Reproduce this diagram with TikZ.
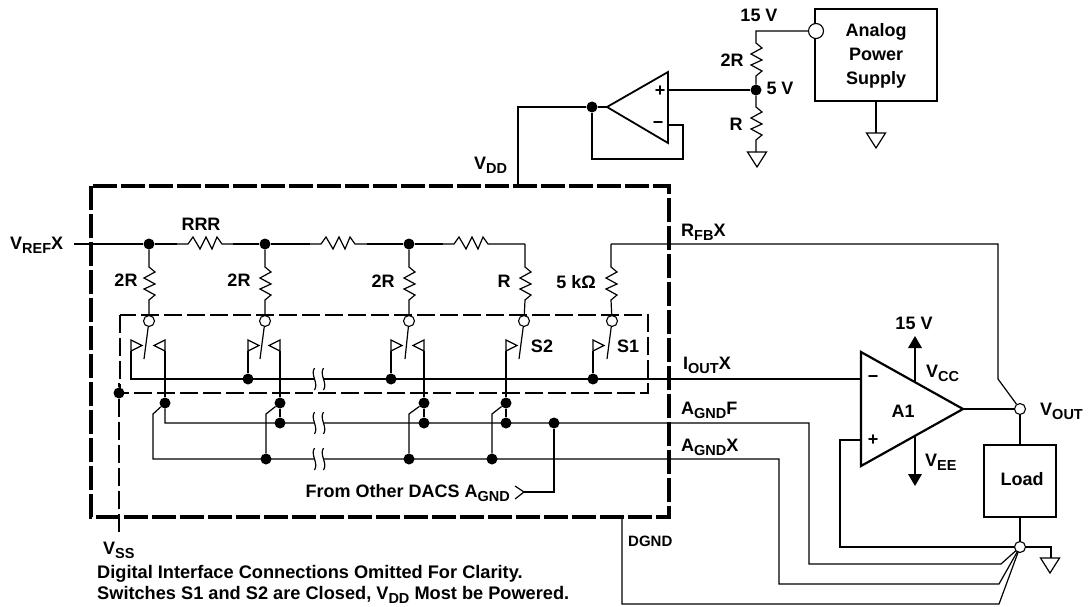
\documentclass[tikz,border=0pt]{standalone}
\usepackage{fontspec}
\setmainfont{Liberation Sans}
\usetikzlibrary{positioning}

\newcommand{\lo}[1]{\raisebox{-4pt}{\fontsize{14.5}{15}\selectfont #1}}
\newcommand{\zigdown}{-- ++(6,5) -- ++(-11,6) -- ++(11,6) -- ++(-11,5) -- ++(11,6) -- ++(-6,5)}
\newcommand{\zigright}{-- ++(5,-7) -- ++(7,12) -- ++(6,-12) -- ++(6,12) -- ++(5,-12) -- ++(5,7)}

\tikzset{
    wire/.style={line width=1.2pt},
    thickline/.style={line width=2.2pt},
    outerbox/.style={line width=3.4pt, dash pattern=on 24pt off 4pt},
    innerbox/.style={line width=1.9pt, dash pattern=on 18pt off 5pt},
    vssline/.style={line width=1.5pt, dash pattern=on 18pt off 5pt},
    dot/.style={circle, fill=black, inner sep=0pt, minimum size=11pt},
    hollow/.style={circle, draw, fill=white, line width=1.1pt, inner sep=0pt, minimum size=11pt},
    lbl/.style={inner sep=0pt, font=\fontsize{18}{20}\selectfont\bfseries},
    gnd/.pic={\draw[wire] (-9.5,0) -- (9.5,0) -- (0,15) -- cycle;},
    flagl/.pic={\draw[wire] (0,0) -- (0,-11) -- (11,-5.5) -- cycle;},
    flagr/.pic={\draw[wire] (0,0) -- (0,-11) -- (-11,-5.5) -- cycle;},
    brk/.pic={
        \fill[white] (-4,-2) rectangle (5,2);
        \draw[wire] (-4.5,-11) .. controls (-9,-4) and (0,4) .. (-4.5,11);
        \draw[wire] (4.5,-11) .. controls (0,-4) and (9,4) .. (4.5,11);
    },
}

\begin{document}
\begin{tikzpicture}[x=1pt, y=-1pt, >=stealth]

    \useasboundingbox (0,0) rectangle (1089,607);

    % dashed boxes
    \draw[outerbox] (91,186) rectangle (669,517);
    \draw[innerbox] (120,315) rectangle (648,393);

    % ladder
    \node[dot]    (j1)  at (149,244) {};
    \node[dot]    (j2)  at (265,244) {};
    \node[dot]    (j3)  at (409,244) {};
    \node[hollow] (p1)  at (149,321) {};
    \node[hollow] (p2)  at (265,321) {};
    \node[hollow] (p3)  at (409,321) {};
    \node[hollow] (p4)  at (524,321) {};
    \node[hollow] (p5)  at (612,321) {};
    \coordinate   (vrefin) at (74,244);
    \coordinate   (top4)   at (525,244);
    \coordinate   (top5)   at (611,244);
    \coordinate   (fbturn) at (998,244);
    \coordinate   (fbdiag) at (998,379);

    \draw[wire] (vrefin) -- (j1);
    \draw[wire] (j1) -- (177,244);
    \draw[wire] (177,244) -- (188,244) \zigright -- (233,244);
    \draw[wire] (233,244) -- (j2);
    \draw[wire] (j2) -- (310,244);
    \draw[wire] (310,244) -- (321,244) \zigright -- (367,244);
    \draw[wire] (367,244) -- (j3);
    \draw[wire] (j3) -- (443,244);
    \draw[wire] (443,244) -- (454,244) \zigright -- (500,244) -- (top4);
    \draw[wire] (j1) -- (149,267) \zigdown -- (p1);
    \draw[wire] (j2) -- (265,267) \zigdown -- (p2);
    \draw[wire] (j3) -- (409,267) \zigdown -- (p3);
    \draw[wire] (top4) -- (525,267) \zigdown -- (p4);
    \draw[wire] (top5) -- (611,267) \zigdown -- (p5);

    % switches
    \draw[wire] (p1) -- (144,359);
    \draw[wire] (p2) -- (260,359);
    \draw[wire] (p3) -- (405,359);
    \draw[wire] (p4) -- (519,359);
    \draw[wire] (p5) -- (607,359);
    \pic at (131,351) {flagl};
    \pic at (248,351) {flagl};
    \pic at (391,351) {flagl};
    \pic at (506,351) {flagl};
    \pic at (593,351) {flagl};
    \pic at (165,351) {flagr};
    \pic at (280,351) {flagr};
    \pic at (424,351) {flagr};

    % bus and rails
    \node[dot] (b1)  at (248,379) {};
    \node[dot] (b2)  at (391,379) {};
    \node[dot] (b3)  at (593,379) {};
    \node[dot] (s1)  at (165,403) {};
    \node[dot] (s2)  at (280,403) {};
    \node[dot] (s3)  at (424,403) {};
    \node[dot] (s4)  at (506,403) {};
    \node[dot] (f1)  at (280,423) {};
    \node[dot] (f2)  at (424,423) {};
    \node[dot] (f3)  at (506,423) {};
    \node[dot] (f4)  at (554,423) {};
    \node[dot] (x1)  at (266,459) {};
    \node[dot] (x2)  at (409,459) {};
    \node[dot] (x3)  at (492,459) {};
    \node[dot] (vss) at (119,393) {};

    \draw[wire] (131,351) -- (131,379) -- (861,379);
    \draw[wire] (248,351) -- (b1);
    \draw[wire] (391,351) -- (b2);
    \draw[wire] (593,351) -- (b3);
    \draw[wire] (165,351) -- (s1);
    \draw[wire] (280,351) -- (s2);
    \draw[wire] (424,351) -- (s3);
    \draw[wire] (506,351) -- (s4);
    \draw[wire] (s1) -- (165,423) -- (809,423) -- (809,564) -- (1001,564) -- (1020,547);
    \draw[wire] (s1) -- (153,414) -- (153,459) -- (779,459) -- (779,584) -- (999,584) -- (1020,547);
    \draw[wire] (s2) -- (f1);
    \draw[wire] (s3) -- (f2);
    \draw[wire] (s4) -- (f3);
    \draw[wire] (s2) -- (266,414) -- (x1);
    \draw[wire] (s3) -- (409,414) -- (x2);
    \draw[wire] (s4) -- (492,414) -- (x3);
    \draw[wire] (622,517) -- (622,604) -- (999,604) -- (1020,547);
    \draw[vssline] (119,383) -- (vss) -- (119,535);
    \draw[wire] (f4) -- (554,492) -- (524,492);
    \draw[wire] (515,486) -- (524,492) -- (515,499);

    \pic at (319,379) {brk};
    \pic at (319,423) {brk};
    \pic at (319,459) {brk};

    % A1 and load
    \node[hollow] (vout) at (1020,409) {};
    \node[hollow] (com)  at (1020,547) {};
    \node[draw, thickline, minimum width=72pt, minimum height=72pt, inner sep=0pt] (load) at (1020,481) {};
    \coordinate (a1out) at (963,409);

    \draw[wire] (top5) -- (fbturn) -- (fbdiag) -- (vout);
    \draw[thickline, line join=miter] (861,352) -- (861,466) -- (a1out) -- cycle;
    \draw[wire] (a1out) -- (vout);
    \draw[wire] (vout) -- (load);
    \draw[wire] (load) -- (com);
    \draw[wire] (861,440) -- (840,440) -- (840,547) -- (com);
    \draw[wire] (com) -- (1051,547) -- (1051,558);
    \pic at (1050,558) {gnd};
    \draw[wire] (915,382) -- (915,345);
    \fill (915,336) -- (922,348) -- (908,348) -- cycle;
    \draw[wire] (915,437) -- (915,477);
    \fill (915,486) -- (922,474) -- (908,474) -- cycle;

    % buffer and supply
    \node[dot] (buf) at (592,107) {};
    \node[dot] (mid) at (756,90)  {};
    \node[draw, line width=1.6pt, minimum width=122pt, minimum height=92pt, inner sep=0pt] (psu) at (876,55) {};
    \node[hollow, minimum size=15pt] (psuo) at (816,31) {};
    \coordinate (bufo) at (607,107);

    \draw[line width=1.8pt] (668,72) -- (668,143) -- (bufo) -- cycle;
    \draw[wire] (bufo) -- (buf);
    \draw[wire] (buf) -- (518,107) -- (518,186);
    \draw[wire] (668,125) -- (683,125) -- (683,159) -- (592,159) -- (buf);
    \draw[wire] (668,90) -- (mid);
    \draw[wire] (psuo) -- (756,31) -- (756,43) \zigdown -- (mid);
    \draw[wire] (mid) -- (756,107) \zigdown -- (756,152);
    \pic at (757,152) {gnd};
    \draw[wire] (876,101) -- (876,133);
    \pic at (876,133) {gnd};

    % labels
    \node[lbl, anchor=base west] (lvref) at (10,249)  {V\lo{REF}X};
    \node[lbl] (lrrr)  at (201,224) {RRR};
    \node[lbl] (l2r1)  at (126,280) {2R};
    \node[lbl] (l2r2)  at (239,280) {2R};
    \node[lbl] (l2r3)  at (383,281) {2R};
    \node[lbl] (lr4)   at (504,281) {R};
    \node[lbl] (l5k)   at (576,282) {5 kΩ};
    \node[lbl] (ls2)   at (542,346) {S2};
    \node[lbl] (ls1)   at (628,346) {S1};
    \node[lbl, anchor=base west] (lvdd)  at (474,169) {V\lo{DD}};
    \node[lbl, anchor=base west] (lfb)   at (681,236) {R\lo{FB}X};
    \node[lbl, anchor=base west] (liout) at (683,369) {I\lo{OUT}X};
    \node[lbl, anchor=base west] (lagf)  at (681,414) {A\lo{GND}F};
    \node[lbl, anchor=base west] (lagx)  at (681,451) {A\lo{GND}X};
    \node[lbl, anchor=base west] (lvss)  at (103,554) {V\lo{SS}};
    \node[lbl, anchor=base east] (lfrom) at (510,497) {From Other DACS A\lo{GND}};
    \node[lbl, anchor=west, font=\fontsize{15}{16}\selectfont\bfseries] (ldgnd) at (628,541) {DGND};
    \node[lbl, anchor=base west, font=\fontsize{18.2}{20}\selectfont\bfseries] (lnote1) at (97,578) {Digital Interface Connections Omitted For Clarity.};
    \node[lbl, anchor=base west, font=\fontsize{18.2}{20}\selectfont\bfseries] (lnote2) at (97,599) {Switches S1 and S2 are Closed, V\lo{DD} Most be Powered.};
    \node[lbl] (l15a)  at (914,323) {15 V};
    \node[lbl, anchor=base west] (lvcc) at (926,377) {V\lo{CC}};
    \node[lbl, anchor=base west] (lvee) at (925,466) {V\lo{EE}};
    \node[lbl] (la1)   at (903,411) {A1};
    \node[lbl, anchor=base west] (lvout) at (1040,415) {V\lo{OUT}};
    \node[lbl] (lload) at (1022,479) {Load};
    \node[lbl] (l15b)  at (759,15)  {15 V};
    \node[lbl] (l2rb)  at (732,60)  {2R};
    \node[lbl] (l5v)   at (780,88)  {5 V};
    \node[lbl] (lrb)   at (736,124) {R};
    \node[lbl, align=center, font=\fontsize{18}{24}\selectfont\bfseries] (lpsu) at (876,56) {Analog\\Power\\Supply};
    \node[lbl] (lmin1) at (873,379) {\textminus};
    \node[lbl] (lpls1) at (873,440) {+};
    \node[lbl] (lmin2) at (658,125) {\textminus};
    \node[lbl] (lpls2) at (660,91)  {+};

\end{tikzpicture}
\end{document}
